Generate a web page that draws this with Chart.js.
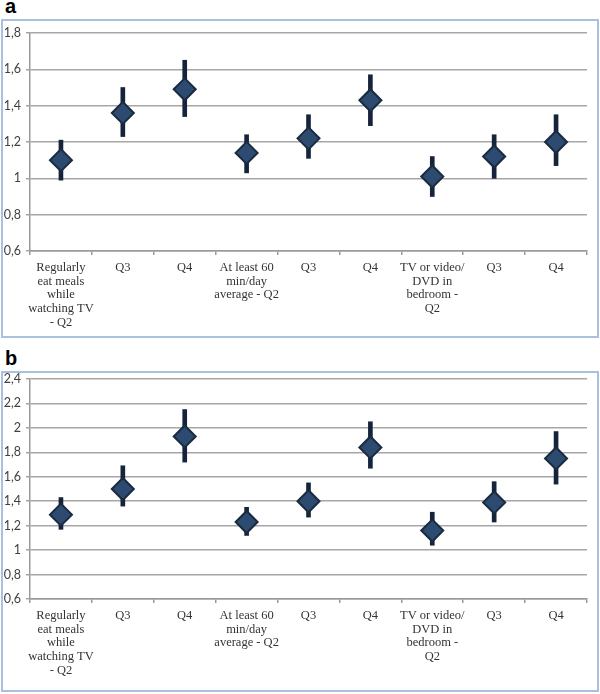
<!DOCTYPE html>
<html>
<head>
<meta charset="utf-8">
<script src="https://cdn.jsdelivr.net/npm/chart.js@4"></script>
<style>
  body { margin: 0; background: #fff; width: 600px; height: 694px; position: relative; overflow: hidden; }
  .box { position: absolute; left: 1px; width: 594px; border: 2px solid #a9c1de; }
  .lbl { position: absolute; left: 5px; font: bold 20px "Liberation Sans", Arial, sans-serif; line-height: 20px; color: #000; }
  canvas { position: absolute; left: 0; }
</style>
</head>
<body>
<div class="lbl" style="top:-4px">a</div>
<div class="box" style="top:19px;height:315px"></div>
<canvas id="chartA" width="600" height="320" style="top:20px"></canvas>

<div class="lbl" style="top:348px">b</div>
<div class="box" style="top:371px;height:317px"></div>
<canvas id="chartB" width="600" height="326" style="top:366px"></canvas>

<script>
const categories = [
  ["Regularly", "eat meals", "while", "watching TV", "- Q2"],
  "Q3",
  "Q4",
  ["At least 60", "min/day", "average - Q2"],
  "Q3",
  "Q4",
  ["TV or video/", "DVD in", "bedroom -", "Q2"],
  "Q3",
  "Q4"
];

// panel a
const aOR   = [1.10, 1.36, 1.49, 1.14, 1.22, 1.43, 1.01, 1.12, 1.20];
const aLow  = [0.99, 1.23, 1.34, 1.03, 1.11, 1.29, 0.90, 1.00, 1.07];
const aHigh = [1.21, 1.50, 1.65, 1.24, 1.35, 1.57, 1.12, 1.24, 1.35];

// panel b
const bOR   = [1.29, 1.50, 1.93, 1.23, 1.40, 1.84, 1.16, 1.39, 1.75];
const bLow  = [1.17, 1.36, 1.72, 1.12, 1.27, 1.67, 1.04, 1.23, 1.54];
const bHigh = [1.43, 1.69, 2.15, 1.35, 1.55, 2.05, 1.31, 1.56, 1.97];

const aTicks = { min: 0.6, max: 1.8 };
const bTicks = { min: 0.6, max: 2.4 };

function fmt(v) {
  return String(Math.round(v * 10) / 10).replace(".", ",");
}

function makeChart(id, or, low, high, range, padTop, xHeight) {
  const ctx = document.getElementById(id).getContext("2d");
  return new Chart(ctx, {
    type: "bar",
    data: {
      labels: categories,
      datasets: [
        {
          type: "line",
          data: or,
          showLine: false,
          pointStyle: "rectRot",
          pointRadius: 11,
          pointHoverRadius: 11,
          pointBackgroundColor: "#2d4b70",
          pointBorderColor: "#1a2b40",
          pointBorderWidth: 2,
          order: 0
        },
        {
          type: "bar",
          data: low.map((l, i) => [l, high[i]]),
          backgroundColor: "#15243a",
          barThickness: 4,
          order: 1
        }
      ]
    },
    options: {
      responsive: false,
      animation: false,
      layout: { padding: { top: padTop, right: 4, left: 0, bottom: 0 } },
      plugins: { legend: { display: false }, tooltip: { enabled: false } },
      scales: {
        x: {
          offset: true,
          grid: { offset: true, drawOnChartArea: false, tickLength: 4, color: "#9a9a9a", lineWidth: 1.5 },
          border: { color: "#9a9a9a", width: 1.5 },
          ticks: {
            autoSkip: false, maxRotation: 0, minRotation: 0, padding: 6,
            color: "#333",
            font: { family: "'Liberation Serif', serif", size: 12.5, lineHeight: 1.09 }
          },
          afterFit: s => { s.height = xHeight; }
        },
        y: {
          min: range.min,
          max: range.max,
          grid: { color: "#a6a6a6", lineWidth: 1.5, tickLength: 4 },
          border: { color: "#9a9a9a", width: 1.5 },
          ticks: {
            stepSize: 0.2, padding: 5, color: "#404040",
            font: { family: "Lato, sans-serif", size: 12.5 },
            callback: v => fmt(v)
          },
          afterFit: s => { s.width = 30; }
        }
      }
    }
  });
}

makeChart("chartA", aOR, aLow, aHigh, aTicks, 12, 89);
makeChart("chartB", bOR, bLow, bHigh, bTicks, 11, 93);
</script>
</body>
</html>
